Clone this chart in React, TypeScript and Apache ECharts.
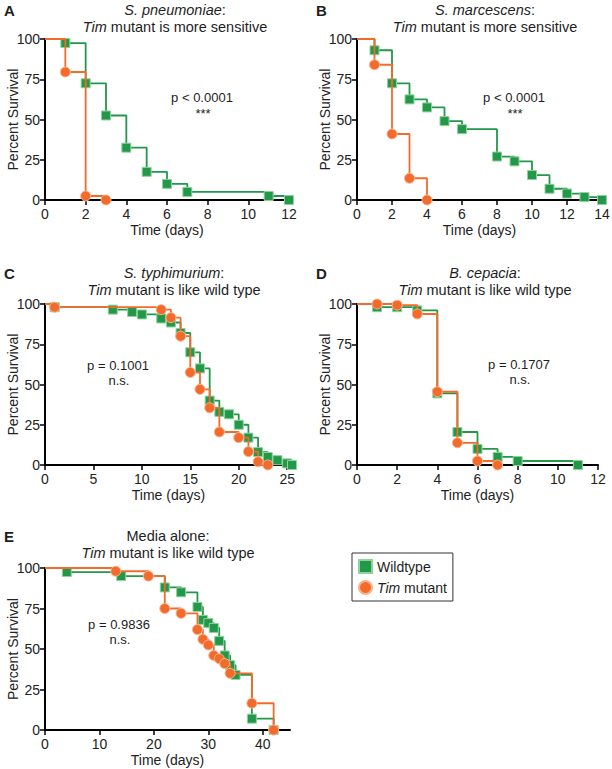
import React, { useEffect, useRef } from 'react';
import * as echarts from 'echarts';

const FONT = '"Liberation Sans", Arial, Helvetica, sans-serif';
const GREEN = '#23974a';
const GREEN_EDGE = '#8fd39a';
const ORANGE = '#f26b2c';
const ORANGE_EDGE = '#f9b48c';
const INK = '#1e1e1e';

// ---- Panel A: S. pneumoniae ----
const A_WT_DAYS = [0, 1, 2, 3, 4, 5, 6, 7, 11, 12];
const A_WT_SURV = [100, 97.5, 72.5, 52.5, 32.5, 17.5, 10, 5, 2.5, 0];
const A_TIM_DAYS = [0, 1, 2, 3];
const A_TIM_SURV = [100, 79.5, 2.5, 0];

// ---- Panel B: S. marcescens ----
const B_WT_DAYS = [0, 1, 2, 3, 4, 5, 6, 8, 9, 10, 11, 12, 13, 14];
const B_WT_SURV = [100, 93, 72.5, 62.5, 57.5, 49, 44, 27, 24, 15.5, 7, 4, 1.8, 0];
const B_TIM_DAYS = [0, 1, 2, 3, 4];
const B_TIM_SURV = [100, 84, 41, 13.5, 0];

// ---- Panel C: S. typhimurium ----
const C_WT_DAYS = [0, 1, 7, 9, 10, 12, 13, 14, 15, 16, 17, 18, 19, 20, 21, 22, 23, 24, 25, 25.5];
const C_WT_SURV = [100, 98, 96.5, 95, 93.5, 91, 88.5, 82, 70, 60, 40, 33, 31.5, 25, 17, 8, 5, 3, 1, 0];
const C_TIM_DAYS = [0, 1, 12, 13, 14, 15, 16, 17, 18, 20, 21, 22, 23];
const C_TIM_SURV = [100, 98, 96.5, 91.5, 80, 57.5, 47, 35.5, 20.5, 17, 8.3, 2, 0];

// ---- Panel D: B. cepacia ----
const D_WT_DAYS = [0, 1, 2, 3, 4, 5, 6, 7, 8, 11];
const D_WT_SURV = [100, 98, 98, 96, 44.5, 20.5, 10, 5, 2.5, 0];
const D_TIM_DAYS = [0, 1, 2, 3, 4, 5, 6, 7];
const D_TIM_SURV = [100, 100, 99.3, 93.8, 45.5, 13.8, 2.5, 0];

// ---- Panel E: Media alone ----
const E_WT_DAYS = [0, 4, 14, 22, 25, 28, 29, 30, 31, 32, 33, 34, 35, 38, 42];
const E_WT_SURV = [100, 97.5, 95, 88, 85, 76, 68, 66, 63, 55, 46, 40, 34, 7, 0];
const E_TIM_DAYS = [0, 13, 19, 22, 25, 28, 29, 30, 31, 32, 33, 34, 38, 42];
const E_TIM_SURV = [100, 98, 95, 75, 72, 62, 56, 52.5, 46, 44, 41, 35, 16.5, 0];

// tick labels
const Y_TICKS = [0, 25, 50, 75, 100];
const A_X_TICKS = [0, 2, 4, 6, 8, 10, 12];
const B_X_TICKS = [0, 2, 4, 6, 8, 10, 12, 14];
const C_X_TICKS = [0, 5, 10, 15, 20, 25];
const D_X_TICKS = [0, 2, 4, 6, 8, 10, 12];
const E_X_TICKS = [0, 10, 20, 30, 40];

// texts
const LETTERS = ['A', 'B', 'C', 'D', 'E'];
const TITLE_1 = ['{i|S. pneumoniae}:', '{i|S. marcescens}:', '{i|S. typhimurium}:', '{i|B. cepacia}:', 'Media alone:'];
const TITLE_2 = [
  '{i|Tim} mutant is more sensitive',
  '{i|Tim} mutant is more sensitive',
  '{i|Tim} mutant is like wild type',
  '{i|Tim} mutant is like wild type',
  '{i|Tim} mutant is like wild type',
];
const P_TEXT = ['p < 0.0001', 'p < 0.0001', 'p = 0.1001', 'p = 0.1707', 'p = 0.9836'];
const SIG_TEXT = ['***', '***', 'n.s.', 'n.s.', 'n.s.'];

const SERIES_DATA = [
  [A_WT_DAYS, A_WT_SURV, A_TIM_DAYS, A_TIM_SURV],
  [B_WT_DAYS, B_WT_SURV, B_TIM_DAYS, B_TIM_SURV],
  [C_WT_DAYS, C_WT_SURV, C_TIM_DAYS, C_TIM_SURV],
  [D_WT_DAYS, D_WT_SURV, D_TIM_DAYS, D_TIM_SURV],
  [E_WT_DAYS, E_WT_SURV, E_TIM_DAYS, E_TIM_SURV],
];
const X_TICKS = [A_X_TICKS, B_X_TICKS, C_X_TICKS, D_X_TICKS, E_X_TICKS];

// layout (pixels)
const LAYOUT = [
  { grid: { left: 45, top: 39, width: 244, height: 161 }, xMax: 12, xInt: 2, letter: [4, 10], title: [175, 10], p: [202, 97] },
  { grid: { left: 357, top: 39, width: 245, height: 161 }, xMax: 14, xInt: 2, letter: [316, 10], title: [485, 10], p: [514, 97] },
  { grid: { left: 45, top: 304, width: 247, height: 161 }, xMax: 25.5, xInt: 5, letter: [4, 273], title: [174, 273], p: [118, 365] },
  { grid: { left: 357, top: 304, width: 241, height: 161 }, xMax: 12, xInt: 2, letter: [316, 273], title: [485, 273], p: [519, 364] },
  { grid: { left: 45, top: 568, width: 245, height: 162 }, xMax: 45, xInt: 10, letter: [4, 536], title: [168, 536], p: [119, 624] },
];

const toSteps = (days: number[], surv: number[]) =>
  days.map((d, i) => (i === 0 ? { value: [d, surv[i]], symbol: 'none' } : [d, surv[i]]));

const richItalic = (size: number) => ({
  i: { fontStyle: 'italic', fontSize: size, fontFamily: FONT, fill: INK, color: INK },
});

export default function App() {
  const ref = useRef<HTMLDivElement>(null);

  useEffect(() => {
    if (!ref.current) return;
    const chart = echarts.init(ref.current, null, { renderer: 'svg' });

    const axisLine = { show: true, onZero: false, lineStyle: { color: '#000', width: 2 } };
    const axisTick = { show: true, length: 5, lineStyle: { color: '#000', width: 1.5 } };
    const labelStyle = { color: '#222', fontSize: 14, fontFamily: FONT };

    const grid = LAYOUT.map((l) => ({ ...l.grid, containLabel: false, outerBoundsMode: 'none' }));

    const xAxis = LAYOUT.map((l, i) => ({
      type: 'value',
      gridIndex: i,
      min: 0,
      max: l.xMax,
      interval: l.xInt,
      axisLine,
      axisTick: { ...axisTick, customValues: X_TICKS[i] },
      axisLabel: {
        ...labelStyle,
        margin: 7,
        customValues: X_TICKS[i],
        formatter: (v: number) => (X_TICKS[i].includes(v) ? String(v) : ''),
      },
      splitLine: { show: false },
      name: 'Time (days)',
      nameLocation: 'middle',
      nameGap: 23,
      nameMoveOverlap: false,
      nameTextStyle: { ...labelStyle },
    }));

    const yAxis = LAYOUT.map((_, i) => ({
      type: 'value',
      gridIndex: i,
      min: 0,
      max: 100,
      interval: 25,
      axisLine,
      axisTick,
      axisLabel: { ...labelStyle, margin: 5, customValues: Y_TICKS },
      splitLine: { show: false },
      name: 'Percent Survival',
      nameLocation: 'middle',
      nameGap: 25,
      nameRotate: 90,
      nameMoveOverlap: false,
      nameTextStyle: { ...labelStyle },
    }));

    const series: any[] = [];
    SERIES_DATA.forEach(([wd, ws, td, ts], i) => {
      series.push({
        type: 'line',
        name: 'Wildtype',
        xAxisIndex: i,
        yAxisIndex: i,
        step: 'end',
        data: toSteps(wd, ws),
        symbol: 'rect',
        symbolSize: 9,
        lineStyle: { color: GREEN, width: 1.8 },
        itemStyle: { color: GREEN, borderColor: GREEN_EDGE, borderWidth: 1 },
        z: 2,
      });
      series.push({
        type: 'line',
        name: 'Tim mutant',
        xAxisIndex: i,
        yAxisIndex: i,
        step: 'end',
        data: toSteps(td, ts),
        symbol: 'circle',
        symbolSize: 10,
        lineStyle: { color: ORANGE, width: 1.8 },
        itemStyle: { color: ORANGE, borderColor: ORANGE_EDGE, borderWidth: 1 },
        z: 3,
      });
    });

    const graphic: any[] = [];
    LAYOUT.forEach((l, i) => {
      graphic.push({
        type: 'text',
        x: l.letter[0],
        y: l.letter[1],
        style: {
          text: LETTERS[i],
          fontSize: 15,
          fontWeight: 'bold',
          fontFamily: FONT,
          fill: INK,
          align: 'left',
          verticalAlign: 'middle',
        },
      });
      graphic.push({
        type: 'text',
        x: l.title[0],
        y: l.title[1],
        style: {
          text: TITLE_1[i],
          fontSize: 14.5,
          fontFamily: FONT,
          fill: INK,
          align: 'center',
          verticalAlign: 'middle',
          rich: richItalic(14.5),
        },
      });
      graphic.push({
        type: 'text',
        x: l.title[0],
        y: l.title[1] + 17,
        style: {
          text: TITLE_2[i],
          fontSize: 14.5,
          fontFamily: FONT,
          fill: INK,
          align: 'center',
          verticalAlign: 'middle',
          rich: richItalic(14.5),
        },
      });
      graphic.push({
        type: 'text',
        x: l.p[0],
        y: l.p[1],
        style: {
          text: P_TEXT[i],
          fontSize: 13,
          fontFamily: FONT,
          fill: INK,
          align: 'center',
          verticalAlign: 'middle',
        },
      });
      const isStar = SIG_TEXT[i] === '***';
      graphic.push({
        type: 'text',
        x: l.p[0] + 1,
        y: l.p[1] + (isStar ? 16 : 15),
        style: {
          text: SIG_TEXT[i],
          fontSize: 13,
          fontFamily: FONT,
          fill: INK,
          align: 'center',
          verticalAlign: 'middle',
        },
      });
    });

    chart.setOption({
      animation: false,
      backgroundColor: '#ffffff',
      grid,
      xAxis,
      yAxis,
      series,
      graphic,
      legend: {
        orient: 'vertical',
        left: 352,
        top: 553,
        padding: [6, 6],
        itemGap: 6,
        itemWidth: 13,
        itemHeight: 13,
        borderColor: '#333',
        borderWidth: 1,
        selectedMode: false,
        data: [
          { name: 'Wildtype', icon: 'rect' },
          { name: 'Tim mutant', icon: 'circle' },
        ],
        formatter: (n: string) => (n === 'Tim mutant' ? '{i|Tim} mutant' : n),
        textStyle: {
          fontSize: 14,
          fontFamily: FONT,
          color: INK,
          rich: { i: { fontStyle: 'italic', fontSize: 14, fontFamily: FONT, color: INK } },
        },
      },
    });

    return () => chart.dispose();
  }, []);

  return (
    <div
      ref={ref}
      style={{ position: 'absolute', left: 0, top: 0, width: 612, height: 769, background: '#fff' }}
    />
  );
}
